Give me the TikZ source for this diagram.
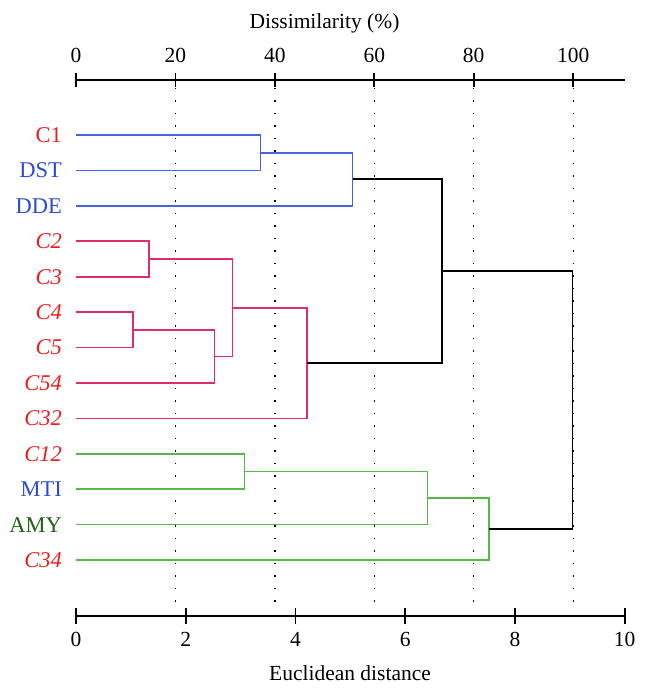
\documentclass[tikz,border=0pt]{standalone}
\usepackage{fontspec}
\setmainfont{Liberation Serif}
\definecolor{linblue}{RGB}{70,100,225}
\definecolor{linred}{RGB}{222,45,105}
\definecolor{lingreen}{RGB}{85,185,70}
\definecolor{labred}{RGB}{235,30,30}
\definecolor{labblue}{RGB}{45,75,215}
\definecolor{labgreen}{RGB}{30,100,20}

\begin{document}
\begin{tikzpicture}[x=54.87bp, y=-35.42bp,
    branch/.style={line width=1.7bp},
    axis/.style={line width=1.7bp},
    gridline/.style={line width=1.3bp, dash pattern=on 1.3bp off 11.2bp},
    leaf/.style={anchor=east, inner sep=0pt, font=\fontsize{22.5bp}{26bp}\selectfont},
    ticklabel/.style={anchor=base, inner sep=0pt, font=\fontsize{21.5bp}{26bp}\selectfont}]
    \useasboundingbox (-1.385,-3.811) rectangle (10.425,15.754);

    % axes
    \draw[axis] (0,-1.553) -- (10,-1.553);
    \foreach \p in {0,20,...,100} {
        \draw[axis] ({\p*0.0906},-1.75) -- ({\p*0.0906},-1.35);
        \node[ticklabel] at ({\p*0.0906},-2.033) {\p};
    }
    \node[ticklabel] (top) at (4.529,-2.993) {Dissimilarity (\%)};
    \draw[axis] (0,13.571) -- (10,13.571);
    \foreach \d in {0,2,...,10} {
        \draw[axis] (\d,13.34) -- (\d,13.80);
        \node[ticklabel] at (\d,14.455) {\d};
    }
    \node[ticklabel] (bottom) at (4.994,15.415) {Euclidean distance};
    \foreach \p in {20,40,...,100}
        \draw[gridline] ({\p*0.0906},-1.33) -- ({\p*0.0906},13.27);

    % leaves
    \coordinate (C1) at (0,0);   \coordinate (DST) at (0,1);  \coordinate (DDE) at (0,2);
    \coordinate (C2) at (0,3);   \coordinate (C3) at (0,4);   \coordinate (C4) at (0,5);
    \coordinate (C5) at (0,6);   \coordinate (C54) at (0,7);  \coordinate (C32) at (0,8);
    \coordinate (C12) at (0,9);  \coordinate (MTI) at (0,10); \coordinate (AMY) at (0,11);
    \coordinate (C34) at (0,12);
    \node[leaf, text=labred] (lC1) at (-0.255,0) {C1};
    \node[leaf, text=labblue] (lDST) at (-0.255,1) {DST};
    \node[leaf, text=labblue] (lDDE) at (-0.255,2) {DDE};
    \node[leaf, text=labred] (lC2) at (-0.255,3) {\itshape C2};
    \node[leaf, text=labred] (lC3) at (-0.255,4) {\itshape C3};
    \node[leaf, text=labred] (lC4) at (-0.255,5) {\itshape C4};
    \node[leaf, text=labred] (lC5) at (-0.255,6) {\itshape C5};
    \node[leaf, text=labred] (lC54) at (-0.255,7) {\itshape C54};
    \node[leaf, text=labred] (lC32) at (-0.255,8) {\itshape C32};
    \node[leaf, text=labred] (lC12) at (-0.255,9) {\itshape C12};
    \node[leaf, text=labblue] (lMTI) at (-0.255,10) {MTI};
    \node[leaf, text=labgreen] (lAMY) at (-0.255,11) {AMY};
    \node[leaf, text=labred] (lC34) at (-0.255,12) {\itshape C34};

    % merges
    \coordinate (m1) at (3.364,0.5);   \coordinate (m2) at (5.040,1.25);
    \coordinate (m3) at (1.335,3.5);   \coordinate (m4) at (1.033,5.5);
    \coordinate (m5) at (2.526,6.25);  \coordinate (m6) at (2.854,4.875);
    \coordinate (m7) at (4.208,6.4375);
    \coordinate (m8) at (3.073,9.5);   \coordinate (m9) at (6.406,10.25);
    \coordinate (m10) at (7.523,11.125);
    \coordinate (m11) at (6.672,3.84375);
    \coordinate (root) at (9.047,7.484375);

    \draw[branch, linblue] (C1) -| (m1) |- (DST);
    \draw[branch, linblue] (DDE) -| (m2) |- (m1);
    \draw[branch, linred] (C2) -| (m3) |- (C3);
    \draw[branch, linred] (C4) -| (m4) |- (C5);
    \draw[branch, linred] (C54) -| (m5) |- (m4);
    \draw[branch, linred] (m3) -| (m6) |- (m5);
    \draw[branch, linred] (C32) -| (m7) |- (m6);
    \draw[branch, lingreen] (C12) -| (m8) |- (MTI);
    \draw[branch, lingreen] (AMY) -| (m9) |- (m8);
    \draw[branch, lingreen] (C34) -| (m10) |- (m9);
    \draw[branch] (m2) -| (m11) |- (m7);
    \draw[branch] (m11) -| (root) |- (m10);
\end{tikzpicture}
\end{document}
